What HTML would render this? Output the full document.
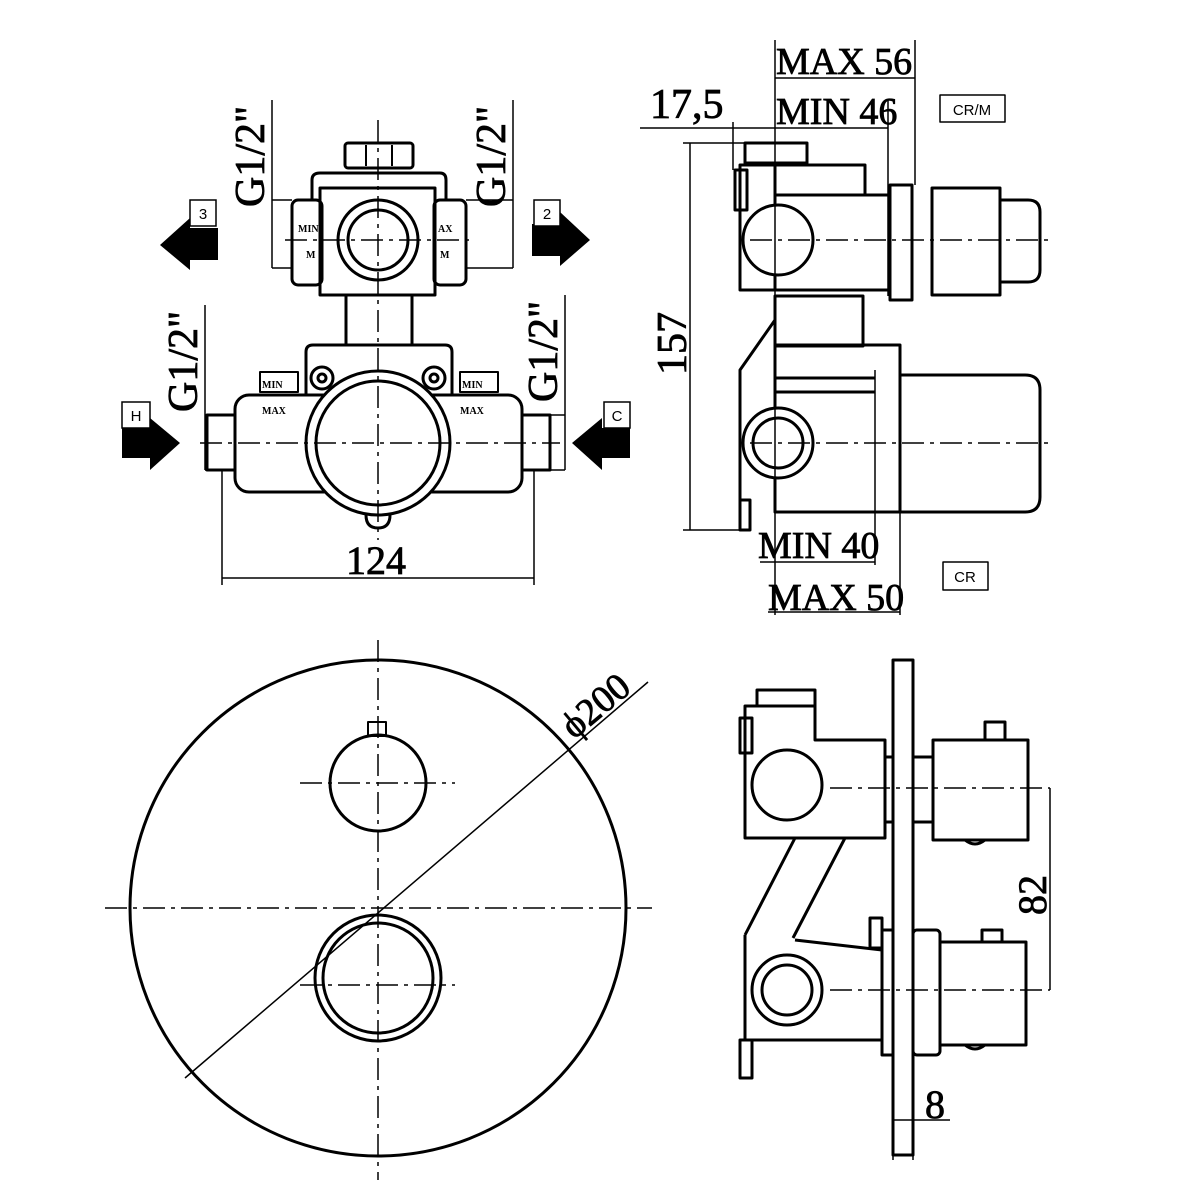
<!DOCTYPE html>
<html><head><meta charset="utf-8"><style>
html,body{margin:0;padding:0;background:#fff}
svg{display:block}
text{font-family:"Liberation Serif",serif;fill:#000}
.s{font-family:"Liberation Sans",sans-serif}
.d{stroke:#000;stroke-width:0.8}
</style></head><body>
<svg width="1200" height="1200" viewBox="0 0 1200 1200" xmlns="http://www.w3.org/2000/svg">
<g fill="none" stroke="#000" stroke-width="3" stroke-linejoin="round">

<circle cx="378" cy="908" r="248"/>
<circle cx="378" cy="783" r="48"/>
<rect x="368" y="722" width="18" height="14" stroke-width="2"/>
<circle cx="378" cy="978" r="63"/>
<circle cx="378" cy="978" r="55"/>
<g stroke-width="1.5" stroke-dasharray="22,6,4,6">
<line x1="105" y1="908" x2="652" y2="908"/>
<line x1="378" y1="640" x2="378" y2="1180"/>
<line x1="300" y1="783" x2="455" y2="783"/>
<line x1="300" y1="985" x2="455" y2="985"/>
</g>
<line x1="185" y1="1078" x2="648" y2="682" stroke-width="1.5"/>

<rect x="345" y="143" width="68" height="25" rx="3"/>
<line x1="366" y1="145" x2="366" y2="166" stroke-width="2"/>
<line x1="392" y1="145" x2="392" y2="166" stroke-width="2"/>
<path d="M312 200 L312 180 Q312 173 320 173 L440 173 Q446 173 446 180 L446 200"/>
<rect x="292" y="200" width="30" height="85" rx="6"/>
<rect x="434" y="200" width="32" height="85" rx="6"/>
<rect x="320" y="188" width="115" height="107"/>
<circle cx="378" cy="240" r="40"/>
<circle cx="378" cy="240" r="30"/>
<rect x="346" y="295" width="66" height="50"/>
<path d="M306 395 L306 352 Q306 345 313 345 L445 345 Q452 345 452 352 L452 395"/>
<rect x="235" y="395" width="287" height="97" rx="14"/>
<rect x="207" y="415" width="28" height="55"/>
<rect x="522" y="415" width="28" height="55"/>
<circle cx="378" cy="443" r="72" fill="#fff"/>
<circle cx="378" cy="443" r="62"/>
<circle cx="322" cy="378" r="11" fill="#fff"/>
<circle cx="322" cy="378" r="4"/>
<circle cx="434" cy="378" r="11" fill="#fff"/>
<circle cx="434" cy="378" r="4"/>
<path d="M366 515 Q366 528 378 528 Q390 528 390 515"/>
<rect x="260" y="372" width="38" height="20" stroke-width="2"/>
<rect x="460" y="372" width="38" height="20" stroke-width="2"/>
<g stroke-width="1.5" stroke-dasharray="22,6,4,6">
<line x1="285" y1="240" x2="475" y2="240"/>
<line x1="378" y1="120" x2="378" y2="540"/>
<line x1="200" y1="443" x2="560" y2="443"/>
</g>
<g stroke-width="1.5">
<line x1="272" y1="100" x2="272" y2="268"/><line x1="272" y1="200" x2="292" y2="200"/><line x1="272" y1="268" x2="292" y2="268"/>
<line x1="513" y1="100" x2="513" y2="268"/><line x1="466" y1="200" x2="513" y2="200"/><line x1="466" y1="268" x2="513" y2="268"/>
<line x1="205" y1="305" x2="205" y2="470"/><line x1="205" y1="415" x2="235" y2="415"/><line x1="205" y1="470" x2="235" y2="470"/>
<line x1="565" y1="295" x2="565" y2="470"/><line x1="522" y1="415" x2="565" y2="415"/><line x1="522" y1="470" x2="565" y2="470"/>
<line x1="222" y1="470" x2="222" y2="585"/><line x1="534" y1="470" x2="534" y2="585"/>
<line x1="222" y1="578" x2="534" y2="578"/>
</g>

<rect x="745" y="143" width="62" height="20"/>
<rect x="735" y="170" width="12" height="40"/>
<path d="M740 165 L775 165 L775 290 L740 290 Z"/>
<rect x="775" y="165" width="90" height="30"/>
<rect x="775" y="195" width="115" height="95"/>
<circle cx="778" cy="240" r="35" fill="#fff"/>
<rect x="890" y="185" width="22" height="115"/>
<rect x="932" y="188" width="68" height="107"/>
<path d="M1000 200 L1028 200 Q1040 200 1040 212 L1040 270 Q1040 282 1028 282 L1000 282"/>
<rect x="775" y="296" width="88" height="50"/>
<rect x="775" y="345" width="125" height="167"/>
<path d="M775 320 L740 370 L740 500"/>
<rect x="740" y="500" width="10" height="30"/>
<line x1="775" y1="378" x2="875" y2="378"/>
<line x1="775" y1="392" x2="875" y2="392"/>
<path d="M900 375 L1025 375 Q1040 375 1040 390 L1040 497 Q1040 512 1025 512 L900 512"/>
<circle cx="778" cy="443" r="35" fill="#fff"/>
<circle cx="778" cy="443" r="25"/>
<g stroke-width="1.5" stroke-dasharray="22,6,4,6">
<line x1="750" y1="240" x2="1048" y2="240"/>
<line x1="750" y1="443" x2="1048" y2="443"/>
</g>
<g stroke-width="1.5">
<line x1="690" y1="143" x2="690" y2="530"/>
<line x1="683" y1="143" x2="745" y2="143"/><line x1="683" y1="530" x2="740" y2="530"/>
<line x1="640" y1="128" x2="888" y2="128"/>
<line x1="733" y1="122" x2="733" y2="170"/>
<line x1="775" y1="40" x2="775" y2="615"/>
<line x1="775" y1="78" x2="915" y2="78"/>
<line x1="915" y1="40" x2="915" y2="185"/>
<line x1="888" y1="100" x2="888" y2="296"/>
<line x1="875" y1="370" x2="875" y2="565"/>
<line x1="900" y1="380" x2="900" y2="615"/>
<line x1="760" y1="562" x2="875" y2="562"/>
<line x1="768" y1="612" x2="900" y2="612"/>
</g>
<rect x="940" y="95" width="65" height="27" stroke-width="1.5"/>
<rect x="943" y="562" width="45" height="28" stroke-width="1.5"/>

<rect x="893" y="660" width="20" height="495"/>
<rect x="757" y="690" width="58" height="16"/>
<rect x="740" y="718" width="12" height="35"/>
<path d="M745 706 L815 706 L815 740 L885 740 L885 838 L745 838 Z"/>
<circle cx="787" cy="785" r="35" fill="#fff"/>
<rect x="885" y="757" width="8" height="65"/>
<rect x="913" y="757" width="20" height="65"/>
<rect x="933" y="740" width="95" height="100"/>
<rect x="985" y="722" width="20" height="18"/>
<path d="M965 840 Q975 848 985 840"/>
<path d="M795 838 L745 935 M845 838 L793 938"/>
<path d="M745 935 L745 1040 L882 1040 L882 950 L795 940"/>
<rect x="870" y="918" width="12" height="30"/>
<circle cx="787" cy="990" r="35" fill="#fff"/>
<circle cx="787" cy="990" r="25"/>
<rect x="882" y="930" width="11" height="125"/>
<rect x="913" y="930" width="27" height="125" rx="4"/>
<rect x="940" y="942" width="86" height="103"/>
<rect x="982" y="930" width="20" height="12"/>
<path d="M965 1045 Q975 1053 985 1045"/>
<rect x="740" y="1040" width="12" height="38"/>
<g stroke-width="1.5" stroke-dasharray="22,6,4,6">
<line x1="830" y1="788" x2="1050" y2="788"/>
<line x1="830" y1="990" x2="1050" y2="990"/>
</g>
<g stroke-width="1.5">
<line x1="1050" y1="788" x2="1050" y2="990"/>
<line x1="893" y1="1120" x2="950" y2="1120"/>
<line x1="893" y1="1090" x2="893" y2="1160"/><line x1="913" y1="1090" x2="913" y2="1160"/>
</g>
</g>

<g fill="#000">
<polygon points="218,228 190,228 190,218 160,245 190,270 190,260 218,260"/>
<polygon points="532,224 560,224 560,212 590,240 560,266 560,256 532,256"/>
<polygon points="122,428 150,428 150,418 180,443 150,470 150,458 122,458"/>
<polygon points="630,428 602,428 602,418 572,443 602,470 602,458 630,458"/>
</g>
<g fill="#fff" stroke="#000" stroke-width="1.5">
<rect x="190" y="200" width="26" height="26"/>
<rect x="534" y="200" width="26" height="26"/>
<rect x="122" y="402" width="28" height="26"/>
<rect x="604" y="402" width="26" height="26"/>
</g>
<text class="s" x="203" y="219" font-size="15" text-anchor="middle">3</text>
<text class="s" x="547" y="219" font-size="15" text-anchor="middle">2</text>
<text class="s" x="136" y="421" font-size="15" text-anchor="middle">H</text>
<text class="s" x="617" y="421" font-size="15" text-anchor="middle">C</text>

<g class="s" font-size="10" font-weight="bold">
<text x="262" y="388">MIN</text><text x="262" y="414">MAX</text>
<text x="462" y="388">MIN</text><text x="460" y="414">MAX</text>
<text x="298" y="232">MIN</text><text x="306" y="258">M</text>
<text x="438" y="232">AX</text><text x="440" y="258">M</text>
</g>

<g class="d">
<text transform="translate(264,207) rotate(-90)" font-size="42">G1/2"</text>
<text transform="translate(505,207) rotate(-90)" font-size="42">G1/2"</text>
<text transform="translate(197,412) rotate(-90)" font-size="42">G1/2"</text>
<text transform="translate(557,402) rotate(-90)" font-size="42">G1/2"</text>
<text x="376" y="574" text-anchor="middle" font-size="40">124</text>
<text transform="translate(686,375) rotate(-90)" font-size="42">157</text>
<text x="650" y="118" font-size="42">17,5</text>
<text x="776" y="74" font-size="38">MAX 56</text>
<text x="776" y="124" font-size="38">MIN 46</text>
<text x="758" y="558" font-size="38">MIN 40</text>
<text x="768" y="610" font-size="38">MAX 50</text>
<text transform="translate(574,740) rotate(-40)" font-size="38">ϕ200</text>
<text transform="translate(1046,915) rotate(-90)" font-size="40">82</text>
<text x="925" y="1118" font-size="40">8</text>
</g>
<text class="s" x="972" y="115" font-size="15" text-anchor="middle">CR/M</text>
<text class="s" x="965" y="582" font-size="15" text-anchor="middle">CR</text>
</svg>
</body></html>
